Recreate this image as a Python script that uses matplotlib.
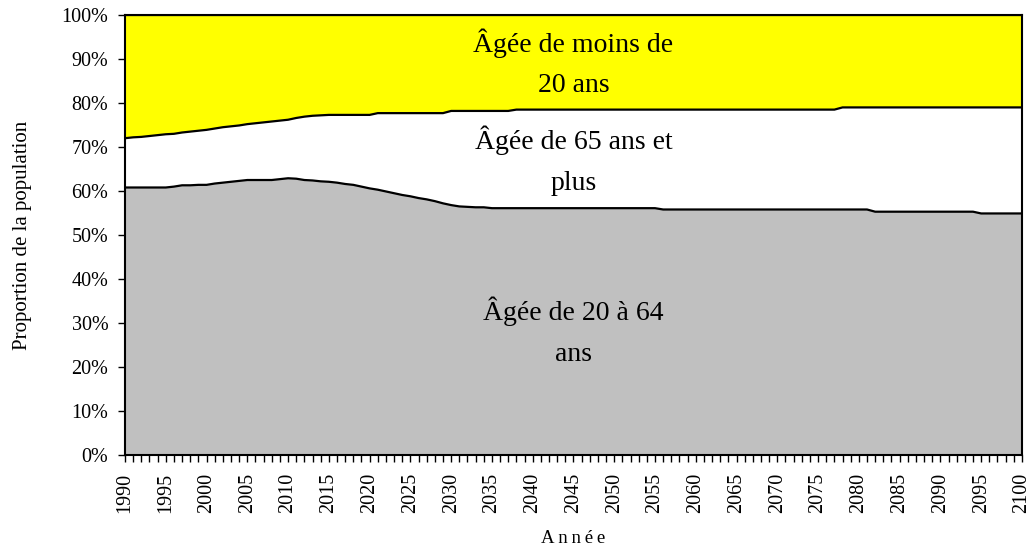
import numpy as np
import matplotlib
matplotlib.use('Agg')
import matplotlib.pyplot as plt
from matplotlib.ticker import MultipleLocator, FuncFormatter

# police style Times
plt.rcParams['font.family'] = ['Liberation Serif', 'DejaVu Serif']

annees = list(range(1990, 2101))

# part de la population (%) par tranche d'âge
part_20_64 = [
    60.8, 60.8, 60.8, 60.8, 60.8, 60.8, 61.0, 61.3, 61.3, 61.4,
    61.4, 61.7, 61.9, 62.1, 62.3, 62.5, 62.5, 62.5, 62.5, 62.7,
    62.9, 62.8, 62.5, 62.4, 62.2, 62.1, 61.9, 61.6, 61.4, 61.0,
    60.6, 60.3, 59.9, 59.5, 59.1, 58.8, 58.4, 58.1, 57.7, 57.2,
    56.8, 56.5, 56.4, 56.3, 56.3, 56.1, 56.1, 56.1, 56.1, 56.1,
    56.1, 56.1, 56.1, 56.1, 56.1, 56.1, 56.1, 56.1, 56.1, 56.1,
    56.1, 56.1, 56.1, 56.1, 56.1, 56.1, 55.8, 55.8, 55.8, 55.8,
    55.8, 55.8, 55.8, 55.8, 55.8, 55.8, 55.8, 55.8, 55.8, 55.8,
    55.8, 55.8, 55.8, 55.8, 55.8, 55.8, 55.8, 55.8, 55.8, 55.8,
    55.8, 55.8, 55.3, 55.3, 55.3, 55.3, 55.3, 55.3, 55.3, 55.3,
    55.3, 55.3, 55.3, 55.3, 55.3, 54.9, 54.9, 54.9, 54.9, 54.9,
    54.9,
]
part_65_plus = [
    11.2, 11.4, 11.5, 11.7, 11.9, 12.1, 12.0, 12.0, 12.2, 12.3,
    12.5, 12.5, 12.6, 12.6, 12.6, 12.7, 12.9, 13.1, 13.3, 13.3,
    13.3, 13.8, 14.4, 14.7, 15.0, 15.2, 15.4, 15.7, 15.9, 16.3,
    16.7, 17.4, 17.8, 18.2, 18.6, 18.9, 19.3, 19.6, 20.0, 20.5,
    21.4, 21.7, 21.8, 21.9, 21.9, 22.1, 22.1, 22.1, 22.4, 22.4,
    22.4, 22.4, 22.4, 22.4, 22.4, 22.4, 22.4, 22.4, 22.4, 22.4,
    22.4, 22.4, 22.4, 22.4, 22.4, 22.4, 22.7, 22.7, 22.7, 22.7,
    22.7, 22.7, 22.7, 22.7, 22.7, 22.7, 22.7, 22.7, 22.7, 22.7,
    22.7, 22.7, 22.7, 22.7, 22.7, 22.7, 22.7, 22.7, 23.2, 23.2,
    23.2, 23.2, 23.7, 23.7, 23.7, 23.7, 23.7, 23.7, 23.7, 23.7,
    23.7, 23.7, 23.7, 23.7, 23.7, 24.1, 24.1, 24.1, 24.1, 24.1,
    24.1,
]
part_moins_20 = [
    28.0, 27.8, 27.7, 27.5, 27.3, 27.1, 27.0, 26.7, 26.5, 26.3,
    26.1, 25.8, 25.5, 25.3, 25.1, 24.8, 24.6, 24.4, 24.2, 24.0,
    23.8, 23.4, 23.1, 22.9, 22.8, 22.7, 22.7, 22.7, 22.7, 22.7,
    22.7, 22.3, 22.3, 22.3, 22.3, 22.3, 22.3, 22.3, 22.3, 22.3,
    21.8, 21.8, 21.8, 21.8, 21.8, 21.8, 21.8, 21.8, 21.5, 21.5,
    21.5, 21.5, 21.5, 21.5, 21.5, 21.5, 21.5, 21.5, 21.5, 21.5,
    21.5, 21.5, 21.5, 21.5, 21.5, 21.5, 21.5, 21.5, 21.5, 21.5,
    21.5, 21.5, 21.5, 21.5, 21.5, 21.5, 21.5, 21.5, 21.5, 21.5,
    21.5, 21.5, 21.5, 21.5, 21.5, 21.5, 21.5, 21.5, 21.0, 21.0,
    21.0, 21.0, 21.0, 21.0, 21.0, 21.0, 21.0, 21.0, 21.0, 21.0,
    21.0, 21.0, 21.0, 21.0, 21.0, 21.0, 21.0, 21.0, 21.0, 21.0,
    21.0,
]

series = [part_20_64, part_65_plus, part_moins_20]
couleurs = ['#C0C0C0', '#FFFFFF', '#FFFF00']
etiquettes = [
    ('Âgée de 20 à 64\nans', 28),
    ('Âgée de 65 ans et\nplus', 66.9),
    ('Âgée de moins de\n20 ans', 89),
]

fig = plt.figure(figsize=(10.33, 5.5), dpi=100)
ax = fig.add_axes([0.121, 0.1727, 0.8683, 0.8])

x = np.array(annees)
bas = np.zeros(len(annees))
for valeurs, couleur in zip(series, couleurs):
    haut = bas + np.array(valeurs)
    ax.fill_between(x, bas, haut, facecolor=couleur, edgecolor='none', zorder=1)
    ax.plot(x, haut, color='black', lw=1.6, zorder=2)
    bas = haut

for texte, yy in etiquettes:
    ax.text(2045, yy, texte, ha='center', va='center', fontsize=20,
            linespacing=1.8, zorder=3)

ax.set_xlim(1990, 2100)
ax.set_ylim(0, 100)
ax.xaxis.set_major_locator(MultipleLocator(5))
ax.xaxis.set_minor_locator(MultipleLocator(1))
ax.yaxis.set_major_locator(MultipleLocator(10))
ax.yaxis.set_major_formatter(FuncFormatter(lambda v, p: '%d%%' % v))
ax.tick_params(axis='x', which='both', direction='out', length=5, width=1,
               labelrotation=90, labelsize=14.5, pad=8)
ax.tick_params(axis='y', direction='out', length=5, width=1, labelsize=14.5, pad=7)

for sp in ax.spines.values():
    sp.set_linewidth(1.5)
    sp.set_zorder(4)

ax.set_ylabel('Proportion de la population', fontsize=15, labelpad=21)
ax.set_xlabel('A\u2009n\u2009n\u2009é\u2009e', fontsize=13.5, labelpad=12)

fig.savefig('out.png', dpi=100)
